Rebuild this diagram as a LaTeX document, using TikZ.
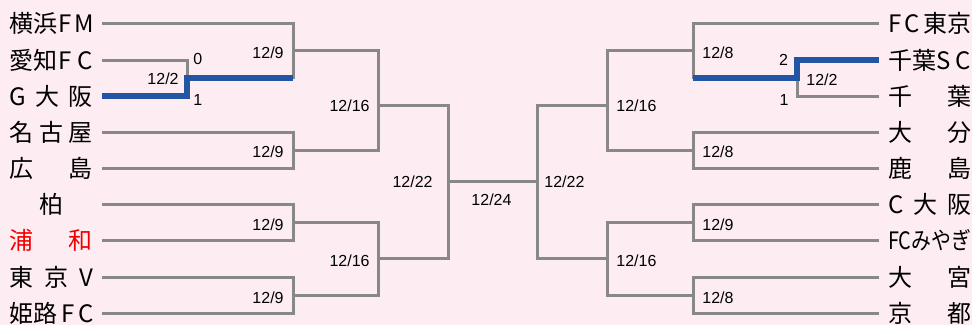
\documentclass[tikz,border=0pt]{standalone}
\usepackage{fontspec}
\setmainfont{Liberation Sans}
\newfontfamily\jpfont{Noto Sans CJK JP}
\usepackage{graphicx}
\usepackage{tikz}
\definecolor{bgpink}{HTML}{FDEDF2}
\definecolor{linegray}{HTML}{888888}
\definecolor{winblue}{HTML}{2255A4}
\definecolor{homered}{HTML}{F00000}
\newcommand{\teamname}[1]{\makebox[41.5pt][s]{#1}}

\begin{document}
\begin{tikzpicture}[x=0.5pt, y=-0.5pt,
  team/.style={inner sep=0pt, outer xsep=4.5pt, text height=10pt, text depth=1pt,
    font=\jpfont\fontsize{12pt}{14pt}\selectfont},
  date/.style={inner sep=0pt, text height=6pt, text depth=0pt,
    font=\fontsize{8pt}{9pt}\selectfont},
  gline/.style={draw=linegray, line width=1.5pt},
  bline/.style={draw=winblue, line width=3pt}]
\useasboundingbox (0,0) rectangle (972,325);
\fill[bgpink] (0,0) rectangle (972,325);
% team names, left half
\foreach \col/\nm [count=\i from 0] in {black/{横浜F M}, black/{愛知F C}, black/{G 大 阪},
    black/{名 古 屋}, black/{広 島}, black/{\hfil 柏\hfil}, homered/{浦 和},
    black/{東 京 V}, black/{姫路 F C}}{
  \node[team, text=\col, anchor=west] (L\i) at (1,{24+36.15*\i}) {\teamname{\nm}};
}
% team names, right half
\foreach \col/\nm [count=\i from 0] in {black/{F C 東京}, black/{千葉S C}, black/{千 葉},
    black/{大 分}, black/{鹿 島}, black/{C 大 阪},
    black/{\resizebox{41.5pt}{\height}{FCみやぎ}}, black/{大 宮}, black/{京 都}}{
  \node[team, text=\col, anchor=east] (R\i) at (980,{24+36.15*\i}) {\teamname{\nm}};
}
% junctions
\coordinate (lq) at (187,78);
\coordinate (la) at (293,51);
\coordinate (lb) at (293,150.5);
\coordinate (lc) at (293,222.9);
\coordinate (ld) at (293,295.2);
\coordinate (lu) at (378,106);
\coordinate (lv) at (378,259);
\coordinate (ls) at (448,182);
\coordinate (rq) at (797,78);
\coordinate (ra) at (693,51);
\coordinate (rb) at (693,150.5);
\coordinate (rc) at (693,222.9);
\coordinate (rd) at (693,295.2);
\coordinate (ru) at (607,106);
\coordinate (rv) at (607,259);
\coordinate (rs) at (537,182);
% left bracket
\draw[gline] (L0.east) -| (la) |- (lq);
\draw[gline] (L1.east) -| (lq) |- (L2.east);
\draw[gline] (L3.east) -| (lb) |- (L4.east);
\draw[gline] (L5.east) -| (lc) |- (L6.east);
\draw[gline] (L7.east) -| (ld) |- (L8.east);
\draw[gline] (la) -| (lu) |- (lb);
\draw[gline] (lc) -| (lv) |- (ld);
\draw[gline] (lu) -| (ls) |- (lv);
% right bracket
\draw[gline] (R0.west) -| (ra) |- (rq);
\draw[gline] (R1.west) -| (rq) |- (R2.west);
\draw[gline] (R3.west) -| (rb) |- (R4.west);
\draw[gline] (R5.west) -| (rc) |- (R6.west);
\draw[gline] (R7.west) -| (rd) |- (R8.west);
\draw[gline] (ra) -| (ru) |- (rb);
\draw[gline] (rc) -| (rv) |- (rd);
\draw[gline] (ru) -| (rs) |- (rv);
% final
\draw[gline] (ls) -- (rs);
% winners of the first round
\draw[bline] (L2.east) -| (lq) -- (lq -| la);
\draw[bline] (R1.west) -| (rq) -- (rq -| ra);
% dates and scores, left
\node[date, anchor=east] (dlq) at (179,79) {12/2};
\node[date, anchor=west] (slq1) at (193,59) {0};
\node[date, anchor=west] (slq2) at (193,100) {1};
\node[date, anchor=east] (dla) at (284,53) {12/9};
\node[date, anchor=east] (dlb) at (284,152) {12/9};
\node[date, anchor=east] (dlc) at (284,225) {12/9};
\node[date, anchor=east] (dld) at (284,297) {12/9};
\node[date, anchor=east] (dlu) at (370,106) {12/16};
\node[date, anchor=east] (dlv) at (370,260) {12/16};
\node[date, anchor=east] (dls) at (433,182) {12/22};
% final date
\node[date] (dfin) at (491.5,200) {12/24};
% dates and scores, right
\node[date, anchor=west] (drs) at (544,182) {12/22};
\node[date, anchor=west] (dru) at (616,106) {12/16};
\node[date, anchor=west] (drv) at (616,260) {12/16};
\node[date, anchor=west] (dra) at (702,53) {12/8};
\node[date, anchor=west] (drb) at (702,152) {12/8};
\node[date, anchor=west] (drc) at (702,225) {12/9};
\node[date, anchor=west] (drd) at (702,297) {12/8};
\node[date, anchor=west] (drq) at (806,80) {12/2};
\node[date] (srq1) at (783.5,60) {2};
\node[date] (srq2) at (784,100) {1};
\end{tikzpicture}
\end{document}
